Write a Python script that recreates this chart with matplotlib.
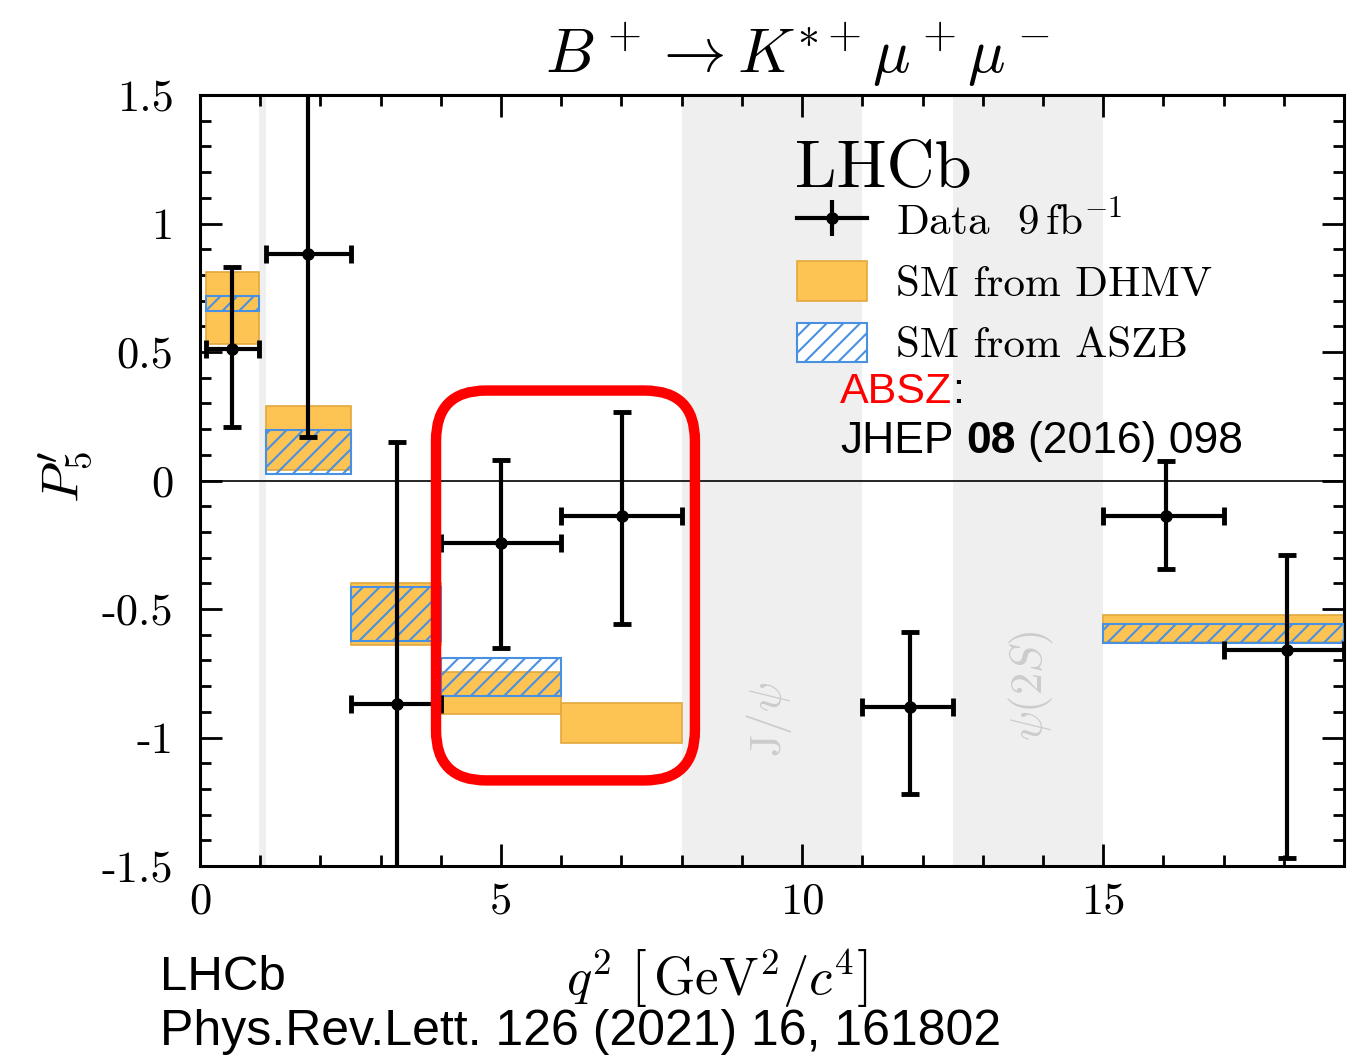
import numpy as np
import matplotlib
matplotlib.use("Agg")
import matplotlib.pyplot as plt
from matplotlib.patches import Patch, FancyBboxPatch
from matplotlib.lines import Line2D
from matplotlib.ticker import MultipleLocator, FuncFormatter

# ---*** DATA ***---
# LHCb data, q2 bins and P5' values
bin_lo = [0.1, 1.1, 2.5, 4.0, 6.0, 11.0, 15.0, 17.0]
bin_hi = [0.98, 2.5, 4.0, 6.0, 8.0, 12.5, 17.0, 19.0]
q2_pt = [0.53, 1.79, 3.27, 5.0, 7.01, 11.79, 16.05, 18.06]
p5 = [0.51, 0.88, -0.87, -0.245, -0.14, -0.88, -0.14, -0.66]
err_up = [0.32, 0.80, 1.02, 0.325, 0.405, 0.29, 0.214, 0.37]
err_dn = [0.30, 0.71, 0.75, 0.405, 0.42, 0.34, 0.206, 0.81]

# SM from DHMV
dhmv_lo_edge = [0.1, 1.1, 2.5, 4.0, 6.0, 15.0]
dhmv_hi_edge = [0.98, 2.5, 4.0, 6.0, 8.0, 19.0]
dhmv_lo = [0.53, 0.04, -0.642, -0.91, -1.02, -0.63]
dhmv_hi = [0.81, 0.29, -0.40, -0.747, -0.864, -0.525]

# SM from ASZB
aszb_lo_edge = [0.1, 1.1, 2.5, 4.0, 15.0]
aszb_hi_edge = [0.98, 2.5, 4.0, 6.0, 19.0]
aszb_lo = [0.658, 0.027, -0.626, -0.84, -0.634]
aszb_hi = [0.716, 0.198, -0.416, -0.69, -0.56]

# vetoed charmonium regions
veto_lo = [0.98, 8.0, 12.5]
veto_hi = [1.1, 11.0, 15.0]

# ---*** STYLE ***---
plt.rcParams['font.family'] = 'serif'
plt.rcParams['font.serif'] = ['cmr10']
plt.rcParams['mathtext.fontset'] = 'cm'
plt.rcParams['axes.unicode_minus'] = False
plt.rcParams['hatch.linewidth'] = 1.5

orange = '#fdc453'
orange_edge = '#e3a83c'
blue = '#4a90e2'

W, H = 1348, 1059
fig = plt.figure(figsize=(W/100, H/100), dpi=100)
ax = fig.add_axes([200/W, 1-866/H, 1144/W, 771/H])

def fpx(x, y):
	return (x/W, 1-y/H)

# ---*** PLOT ***---
for i in range(len(veto_lo)):
	ax.axvspan(veto_lo[i], veto_hi[i], color='#efefef', lw=0, zorder=0)

ax.axhline(0, color='k', lw=1.2, zorder=1)

dl = np.array(dhmv_lo_edge); dh = np.array(dhmv_hi_edge)
ax.bar((dl+dh)/2, np.array(dhmv_hi)-np.array(dhmv_lo), width=dh-dl, bottom=dhmv_lo,
	color=orange, edgecolor=orange_edge, lw=1.2, zorder=2)

al = np.array(aszb_lo_edge); ah = np.array(aszb_hi_edge)
ax.bar((al+ah)/2, np.array(aszb_hi)-np.array(aszb_lo), width=ah-al, bottom=aszb_lo,
	facecolor='none', edgecolor=blue, hatch='//', lw=1.5, zorder=3)

xe = [np.array(q2_pt)-np.array(bin_lo), np.array(bin_hi)-np.array(q2_pt)]
ax.errorbar(q2_pt, p5, xerr=xe, yerr=[err_dn, err_up], fmt='o', color='k', ms=8,
	elinewidth=3, capsize=6.5, capthick=3.5, zorder=4)

# red highlight box
box = FancyBboxPatch((3.92, -1.167), 8.22-3.92, 0.35+1.167,
	boxstyle="round,pad=0,rounding_size=0.83", mutation_aspect=0.235,
	facecolor='none', edgecolor='#ff0000', lw=7.5, zorder=5, clip_on=False)
ax.add_patch(box)

ax.text(9.45, -0.93, r'$\mathrm{J}/\psi$', rotation=90, color='#cccccc', fontsize=32,
	ha='center', va='center', zorder=1)
ax.text(13.8, -0.8, r'$\psi(2S)$', rotation=90, color='#cccccc', fontsize=32,
	ha='center', va='center', zorder=1)

ax.set_xlim(0, 19)
ax.set_ylim(-1.5, 1.5)
ax.set_xticks([0, 5, 10, 15])
ax.xaxis.set_minor_locator(MultipleLocator(1))
ax.yaxis.set_major_locator(MultipleLocator(0.5))
ax.yaxis.set_minor_locator(MultipleLocator(0.1))
ax.yaxis.set_major_formatter(FuncFormatter(lambda v, p: '%g' % v))
ax.xaxis.set_major_formatter(FuncFormatter(lambda v, p: '%g' % v))
ax.tick_params(which='both', direction='in', top=True, right=True, width=2)
ax.tick_params(which='major', length=16, labelsize=32)
ax.tick_params(axis='y', which='major', pad=19)
ax.tick_params(axis='x', which='major', pad=12)
ax.tick_params(which='minor', length=8)
for s in ax.spines.values():
	s.set_linewidth(2.2)

# legend
fig.text(*fpx(795, 187), 'LHCb', fontsize=48, va='baseline')
h_data = (Line2D([], [], color='k', lw=3, marker='o', ms=8),
	Line2D([], [], ls='none', marker='|', ms=26, mew=3, color='k'))
h_dhmv = Patch(facecolor=orange, edgecolor=orange_edge, lw=1.2)
h_aszb = Patch(facecolor='white', edgecolor=blue, hatch='//', lw=1.5)
leg = ax.legend([h_data, h_dhmv, h_aszb],
	[r'Data  $9\,\mathrm{fb}^{-1}$', 'SM from DHMV', 'SM from ASZB'],
	fontsize=31, loc='upper left', bbox_to_anchor=fpx(797, 200), bbox_transform=fig.transFigure,
	frameon=False, borderpad=0, borderaxespad=0, handlelength=1.62, handleheight=1.05,
	handletextpad=0.67, labelspacing=0.43)

# titles / labels
fig.text(*fpx(797, 73), r'$B^+ \to K^{*+}\mu^+\mu^-$', fontsize=45, ha='center', va='baseline')
fig.text(*fpx(717, 995), r'$q^2\ \left[\,\mathrm{GeV}^2/c^4\right]$', fontsize=38,
	ha='center', va='baseline')
fig.text(*fpx(65, 477), r"$P_5^{\prime}$", fontsize=38, rotation=90, ha='center', va='center')

# reference annotations (sans serif)
sans = 'Liberation Sans'
t1 = fig.text(*fpx(840, 403), 'ABSZ', color='#ff0000', fontsize=31, family=sans, va='baseline')
ax.annotate(':', xy=(1, 0), xycoords=t1, fontsize=31, family=sans, va='bottom', ha='left',
	annotation_clip=False)
t2 = fig.text(*fpx(840, 453), 'JHEP', fontsize=32, family=sans, va='baseline')
t3 = ax.annotate('08', xy=(1, 0), xycoords=t2, xytext=(9, 0), textcoords='offset points',
	fontsize=32, family=sans, weight='bold', va='bottom', ha='left', annotation_clip=False)
ax.annotate('(2016) 098', xy=(1, 0), xycoords=t3, xytext=(9, 0), textcoords='offset points',
	fontsize=32, family=sans, va='bottom', ha='left', annotation_clip=False)

fig.text(*fpx(160, 990), 'LHCb', fontsize=35.5, family=sans, va='baseline')
fig.text(*fpx(160, 1045), 'Phys.Rev.Lett. 126 (2021) 16, 161802', fontsize=36, family=sans,
	va='baseline')

fig.savefig('out.png', dpi=100)
